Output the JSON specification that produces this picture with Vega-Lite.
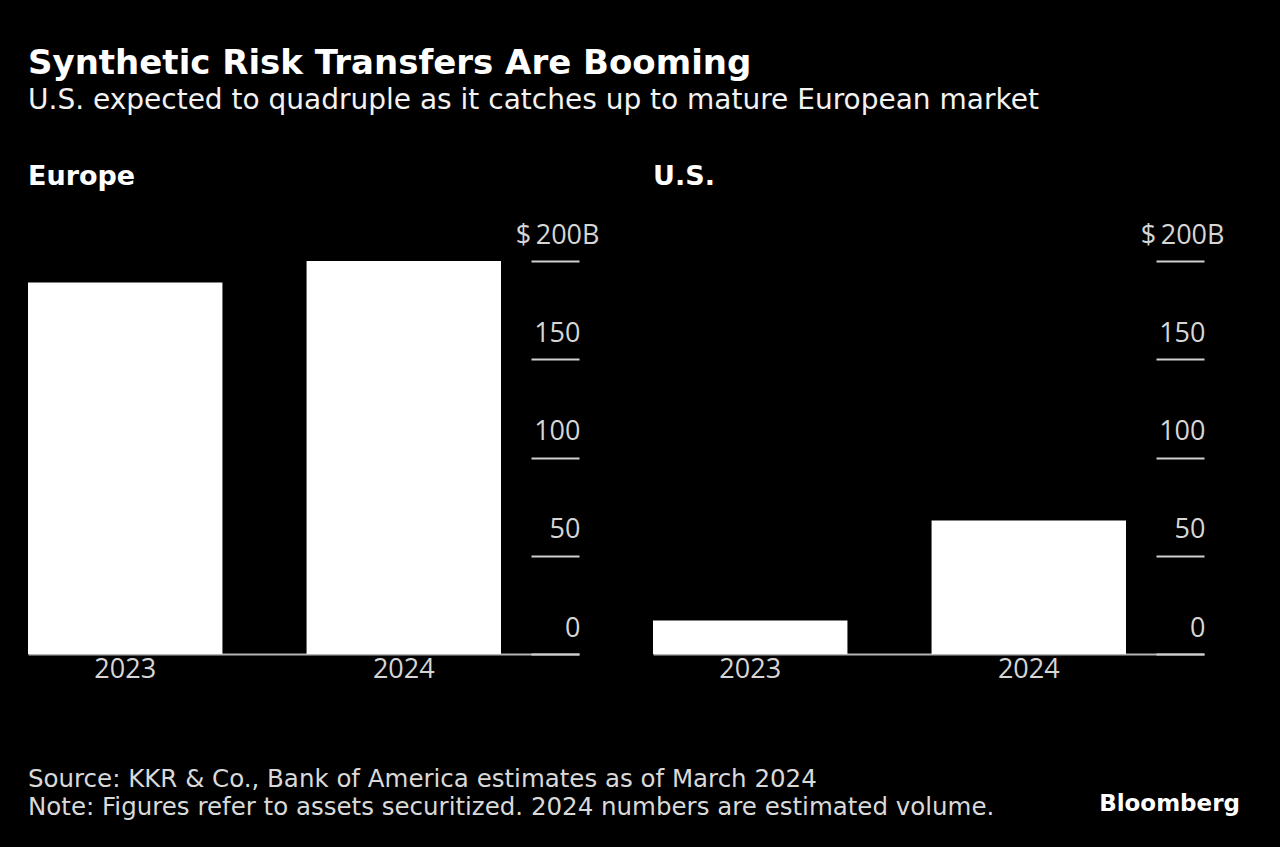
{
  "$schema": "https://vega.github.io/schema/vega-lite/v6.json",
  "background": "#000000",
  "padding": {"left": 28, "top": 47, "right": 40, "bottom": 18},
  "title": {
    "text": "Synthetic Risk Transfers Are Booming",
    "subtitle": "U.S. expected to quadruple as it catches up to mature European market",
    "anchor": "start",
    "font": "DejaVu Sans",
    "fontSize": 34,
    "fontWeight": "bold",
    "color": "#ffffff",
    "lineHeight": 34,
    "subtitleFont": "DejaVu Sans",
    "subtitleFontSize": 28,
    "subtitleFontWeight": "normal",
    "subtitleColor": "#f2f2f2",
    "subtitlePadding": 6,
    "subtitleLineHeight": 28,
    "offset": 48
  },
  "spacing": 85,
  "vconcat": [
    {
      "spacing": 54,
      "hconcat": [
        {
          "title": {"text": "Europe"},
          "width": 551,
          "height": 393,
          "data": {"values": [{"year": "2023", "value": 189}, {"year": "2024", "value": 200}]},
          "mark": {"type": "bar", "color": "#ffffff"},
          "encoding": {
            "x": {"field": "year", "type": "ordinal", "scale": {"paddingInner": 0.302, "paddingOuter": 0.14, "align": 0}},
            "y": {"field": "value", "type": "quantitative", "scale": {"domain": [0, 200], "nice": false}, "axis": {"values": [0, 50, 100, 150, 200]}}
          }
        },
        {
          "title": {"text": "U.S."},
          "width": 551,
          "height": 393,
          "data": {"values": [{"year": "2023", "value": 17}, {"year": "2024", "value": 68}]},
          "mark": {"type": "bar", "color": "#ffffff"},
          "encoding": {
            "x": {"field": "year", "type": "ordinal", "scale": {"paddingInner": 0.302, "paddingOuter": 0.14, "align": 0}},
            "y": {"field": "value", "type": "quantitative", "scale": {"domain": [0, 200], "nice": false}, "axis": {"values": [0, 50, 100, 150, 200]}}
          }
        }
      ]
    },
    {
      "spacing": 0,
      "hconcat": [
        {
          "width": 1000,
          "height": 9,
          "title": {
            "text": ["Source: KKR & Co., Bank of America estimates as of March 2024", "Note: Figures refer to assets securitized. 2024 numbers are estimated volume."],
            "anchor": "start",
            "font": "DejaVu Sans",
            "fontSize": 24.5,
            "fontWeight": "normal",
            "color": "#d9d9d9",
            "lineHeight": 28,
            "offset": 0
          },
          "data": {"values": [{}]},
          "mark": {"type": "text", "text": ""},
          "encoding": {}
        },
        {
          "width": 212,
          "height": 9,
          "title": {
            "text": ["", "Bloomberg"],
            "anchor": "end",
            "font": "DejaVu Sans",
            "fontSize": 23,
            "fontWeight": "bold",
            "color": "#ffffff",
            "lineHeight": 20,
            "offset": 5
          },
          "data": {"values": [{}]},
          "mark": {"type": "text", "text": ""},
          "encoding": {}
        }
      ]
    }
  ],
  "config": {
    "view": {"stroke": null},
    "title": {
      "anchor": "start",
      "font": "DejaVu Sans",
      "fontSize": 27,
      "fontWeight": "bold",
      "color": "#ffffff",
      "offset": 30
    },
    "axisX": {
      "title": null,
      "labelAngle": 0,
      "ticks": false,
      "domainColor": "#b3b3b3",
      "domainWidth": 2,
      "labelFont": "Open Sans",
      "labelFontSize": 27,
      "labelColor": "#d6d6d6",
      "labelPadding": 2,
      "zindex": 1
    },
    "axisY": {
      "orient": "right",
      "offset": -48,
      "title": null,
      "domain": false,
      "grid": false,
      "ticks": true,
      "tickSize": 48,
      "tickColor": "#d0d0d0",
      "tickWidth": 2,
      "labelAlign": "right",
      "labelBaseline": "alphabetic",
      "labelOffset": -18,
      "labelPadding": {"condition": {"test": "datum.value == 200", "value": 20}, "value": 1},
      "labelFont": "Open Sans",
      "labelFontSize": 27,
      "labelColor": "#d6d6d6",
      "labelFlush": false,
      "labelOverlap": false,
      "labelExpr": "datum.value == 200 ? '$\u2009200B' : datum.label"
    }
  }
}
